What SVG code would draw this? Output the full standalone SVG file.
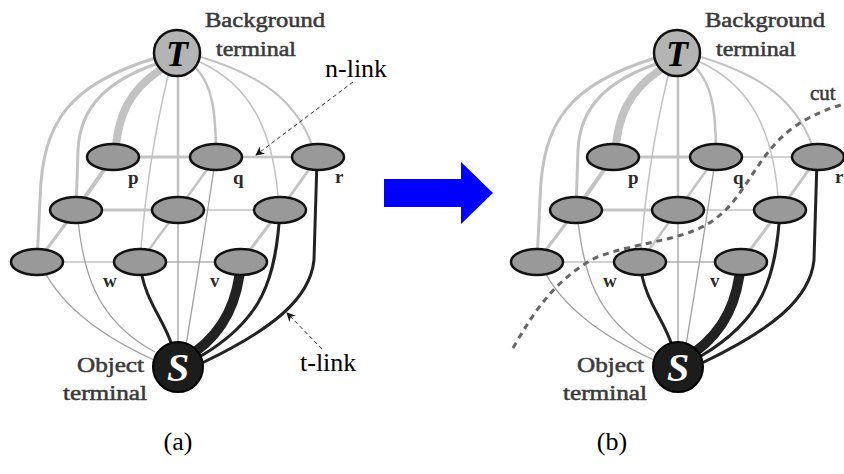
<svg xmlns="http://www.w3.org/2000/svg" width="844" height="474" viewBox="0 0 844 474">
  <defs>
    <style>
      .tl { fill: none; stroke: #c2c2c2; stroke-linecap: round; }
      .sl { fill: none; stroke: #222; stroke-linecap: round; }
      .sg { fill: none; stroke: #a0a0a0; stroke-width: 1.3; }
      .nl { fill: none; stroke: #c4c4c4; stroke-linecap: round; }
      .px { fill: #999; stroke: #111; stroke-width: 2.5; }
      .lab { font-family: "Liberation Serif", "Times New Roman", serif; fill: #3a3a3a; stroke: #3a3a3a; stroke-width: 0.5; }
      .pl { font-family: "Liberation Serif", "Times New Roman", serif; fill: #2a2a2a; font-size: 19px; font-weight: bold; }
      .big { font-family: "Liberation Serif", "Times New Roman", serif; fill: #000; font-size: 26px; }
      .ptr { fill: none; stroke: #333; stroke-width: 1; stroke-dasharray: 4 3; }
    </style>
    <marker id="tip" viewBox="0 0 10 10" refX="9" refY="5" markerWidth="9" markerHeight="9" orient="auto-start-reverse" markerUnits="userSpaceOnUse">
      <path d="M0,0 L10,5 L0,10 L3,5 Z" fill="#111"/>
    </marker>
  </defs>
  <rect width="844" height="474" fill="#fff"/>

  <!-- Panel (a) -->
  <g id="panel-a">
    <g id="a-connectors">
      <!-- n-links between neighbouring pixels -->
      <line class="nl" x1="113" y1="157" x2="216" y2="157" stroke-width="3"/>
      <line class="nl" x1="216" y1="157" x2="318" y2="157" stroke-width="2.5"/>
      <line class="nl" x1="76" y1="210" x2="178" y2="210" stroke-width="3"/>
      <line class="nl" x1="178" y1="210" x2="280" y2="210" stroke-width="1.5"/>
      <line class="nl" x1="37" y1="262" x2="140" y2="262" stroke-width="1.5"/>
      <line class="nl" x1="140" y1="262" x2="241" y2="262" stroke-width="2"/>
      <line class="nl" x1="113" y1="157" x2="76" y2="210" stroke-width="4"/>
      <line class="nl" x1="76" y1="210" x2="37" y2="262" stroke-width="3"/>
      <line class="nl" x1="216" y1="157" x2="178" y2="210" stroke-width="2.5"/>
      <line class="nl" x1="178" y1="210" x2="140" y2="262" stroke-width="2.5"/>
      <line class="nl" x1="318" y1="157" x2="280" y2="210" stroke-width="3"/>
      <line class="nl" x1="280" y1="210" x2="241" y2="262" stroke-width="3"/>
      <!-- t-links to the background terminal -->
      <path class="tl" d="M155,58 C70,85 42,120 40,200 L37,262" stroke-width="3"/>
      <path class="tl" d="M156,64 C110,80 80,105 78,150 L76,210" stroke-width="3"/>
      <path class="tl" d="M160,70 C130,90 117,115 115,157" stroke-width="8"/>
      <path class="tl" d="M168,76 C155,130 145,190 140,262" stroke-width="1.5"/>
      <path class="tl" d="M178,77 L178,210" stroke-width="2.5"/>
      <path class="tl" d="M196,68 C212,85 216,110 216,157" stroke-width="2.5"/>
      <path class="tl" d="M200,62 C250,85 275,130 279,210" stroke-width="1.5"/>
      <path class="tl" d="M201,57 C260,75 300,100 316,157" stroke-width="2"/>
      <!-- t-links to the object terminal -->
      <path class="sg" d="M40,262 C60,310 110,340 154,360"/>
      <path class="sg" d="M77,210 C82,270 95,320 155,352"/>
      <path class="sg" d="M178,210 L178,345" stroke-width="2"/>
      <path class="sg" d="M214,168 C205,230 195,290 186,345"/>
      <path class="sl" d="M140,262 C143,300 165,320 172,346" stroke-width="3"/>
      <path class="sl" d="M241,262 C238,300 225,330 195,352" stroke-width="10"/>
      <path class="sl" d="M280,210 C276,280 262,320 201,356" stroke-width="3"/>
      <path class="sl" d="M317,160 L314,260 C310,300 270,330 204,362" stroke-width="3"/>
      <!-- label pointers -->
      <line class="ptr" x1="353" y1="82" x2="256" y2="155" marker-end="url(#tip)"/>
      <line class="ptr" x1="322" y1="349" x2="287" y2="313" marker-end="url(#tip)"/>
    </g>

    <g id="a-T">
      <circle cx="177" cy="53" r="23" fill="#b4b4b4" stroke="#111" stroke-width="2.5"/>
      <text x="177" y="66" text-anchor="middle" font-family="Liberation Serif, serif" font-style="italic" font-weight="bold" font-size="36" fill="#000">T</text>
    </g>
    <g id="a-S">
      <circle cx="178" cy="367" r="25" fill="#1c1c1c" stroke="#000" stroke-width="2"/>
      <text x="178" y="381" text-anchor="middle" font-family="Liberation Serif, serif" font-style="italic" font-weight="bold" font-size="40" fill="#fff">S</text>
    </g>
    <g id="a-p"><ellipse class="px" cx="113" cy="157" rx="26" ry="13"/></g>
    <g id="a-q"><ellipse class="px" cx="216" cy="157" rx="26" ry="13"/></g>
    <g id="a-r"><ellipse class="px" cx="318" cy="157" rx="26" ry="13"/></g>
    <g id="a-m1"><ellipse class="px" cx="76" cy="210" rx="26" ry="13"/></g>
    <g id="a-m2"><ellipse class="px" cx="178" cy="210" rx="26" ry="13"/></g>
    <g id="a-m3"><ellipse class="px" cx="280" cy="210" rx="26" ry="13"/></g>
    <g id="a-b1"><ellipse class="px" cx="37" cy="262" rx="26" ry="13"/></g>
    <g id="a-w"><ellipse class="px" cx="140" cy="262" rx="26" ry="13"/></g>
    <g id="a-v"><ellipse class="px" cx="241" cy="262" rx="26" ry="13"/></g>

    <g id="a-labels">
      <text class="lab" x="205" y="27" font-size="20" textLength="120" lengthAdjust="spacingAndGlyphs">Background</text>
      <text class="lab" x="216" y="56" font-size="20" textLength="80" lengthAdjust="spacingAndGlyphs">terminal</text>
      <text class="lab" x="77" y="372" font-size="20" textLength="67" lengthAdjust="spacingAndGlyphs">Object</text>
      <text class="lab" x="63" y="400" font-size="20" textLength="84" lengthAdjust="spacingAndGlyphs">terminal</text>
      <text class="pl" x="128" y="184">p</text>
      <text class="pl" x="233" y="184">q</text>
      <text class="pl" x="335" y="183">r</text>
      <text class="pl" x="103" y="287">w</text>
      <text class="pl" x="210" y="287">v</text>
      <text class="big" x="325" y="77">n-link</text>
      <text class="big" x="300" y="371">t-link</text>
      <text class="big" x="178" y="450" text-anchor="middle">(a)</text>
    </g>
  </g>

  <!-- Arrow between panels -->
  <path id="arrow" d="M384,179 L461,179 L461,162 L493,193 L461,224 L461,207 L384,207 Z" fill="#0000ff"/>

  <!-- Panel (b): same graph, with the cut -->
  <g id="panel-b" transform="translate(500,0)">
    <g id="b-connectors">
      <line class="nl" x1="113" y1="157" x2="216" y2="157" stroke-width="3"/>
      <line class="nl" x1="216" y1="157" x2="318" y2="157" stroke-width="1.5"/>
      <line class="nl" x1="76" y1="210" x2="178" y2="210" stroke-width="3"/>
      <line class="nl" x1="178" y1="210" x2="280" y2="210" stroke-width="1.5"/>
      <line class="nl" x1="37" y1="262" x2="140" y2="262" stroke-width="1.5"/>
      <line class="nl" x1="140" y1="262" x2="241" y2="262" stroke-width="2"/>
      <line class="nl" x1="113" y1="157" x2="76" y2="210" stroke-width="4"/>
      <line class="nl" x1="76" y1="210" x2="37" y2="262" stroke-width="3"/>
      <line class="nl" x1="216" y1="157" x2="178" y2="210" stroke-width="2.5"/>
      <line class="nl" x1="178" y1="210" x2="140" y2="262" stroke-width="2.5"/>
      <line class="nl" x1="318" y1="157" x2="280" y2="210" stroke-width="3"/>
      <line class="nl" x1="280" y1="210" x2="241" y2="262" stroke-width="3"/>
      <path class="tl" d="M155,58 C70,85 42,120 40,200 L37,262" stroke-width="3"/>
      <path class="tl" d="M156,64 C110,80 80,105 78,150 L76,210" stroke-width="3"/>
      <path class="tl" d="M160,70 C130,90 117,115 115,157" stroke-width="8"/>
      <path class="tl" d="M168,76 C155,130 145,190 140,262" stroke-width="1.5"/>
      <path class="tl" d="M178,77 L178,210" stroke-width="2.5"/>
      <path class="tl" d="M196,68 C212,85 216,110 216,157" stroke-width="2.5"/>
      <path class="tl" d="M200,62 C250,85 275,130 279,210" stroke-width="1.5"/>
      <path class="tl" d="M201,57 C260,75 300,100 316,157" stroke-width="2"/>
      <path class="sg" d="M40,262 C60,310 110,340 154,360"/>
      <path class="sg" d="M77,210 C82,270 95,320 155,352"/>
      <path class="sg" d="M178,210 L178,345" stroke-width="2"/>
      <path class="sg" d="M214,168 C205,230 195,290 186,345"/>
      <path class="sl" d="M140,262 C143,300 165,320 172,346" stroke-width="3"/>
      <path class="sl" d="M241,262 C238,300 225,330 195,352" stroke-width="10"/>
      <path class="sl" d="M280,210 C276,280 262,320 201,356" stroke-width="3"/>
      <path class="sl" d="M317,160 L314,260 C310,300 270,330 204,362" stroke-width="3"/>
    </g>

    <g id="b-T">
      <circle cx="177" cy="53" r="23" fill="#b4b4b4" stroke="#111" stroke-width="2.5"/>
      <text x="177" y="66" text-anchor="middle" font-family="Liberation Serif, serif" font-style="italic" font-weight="bold" font-size="36" fill="#000">T</text>
    </g>
    <g id="b-S">
      <circle cx="178" cy="367" r="25" fill="#1c1c1c" stroke="#000" stroke-width="2"/>
      <text x="178" y="381" text-anchor="middle" font-family="Liberation Serif, serif" font-style="italic" font-weight="bold" font-size="40" fill="#fff">S</text>
    </g>
    <g id="b-p"><ellipse class="px" cx="113" cy="157" rx="26" ry="13"/></g>
    <g id="b-q"><ellipse class="px" cx="216" cy="157" rx="26" ry="13"/></g>
    <g id="b-r"><ellipse class="px" cx="318" cy="157" rx="26" ry="13"/></g>
    <g id="b-m1"><ellipse class="px" cx="76" cy="210" rx="26" ry="13"/></g>
    <g id="b-m2"><ellipse class="px" cx="178" cy="210" rx="26" ry="13"/></g>
    <g id="b-m3"><ellipse class="px" cx="280" cy="210" rx="26" ry="13"/></g>
    <g id="b-b1"><ellipse class="px" cx="37" cy="262" rx="26" ry="13"/></g>
    <g id="b-w"><ellipse class="px" cx="140" cy="262" rx="26" ry="13"/></g>
    <g id="b-v"><ellipse class="px" cx="241" cy="262" rx="26" ry="13"/></g>

    <!-- the cut separating object from background -->
    <path id="cut" d="M13,348 C35,310 55,280 95,258 C140,240 190,242 220,215 C245,195 258,155 290,130 C310,115 330,108 344,104" fill="none" stroke="#666" stroke-width="3" stroke-dasharray="6 5"/>

    <g id="b-labels">
      <text class="lab" x="205" y="27" font-size="20" textLength="120" lengthAdjust="spacingAndGlyphs">Background</text>
      <text class="lab" x="216" y="56" font-size="20" textLength="80" lengthAdjust="spacingAndGlyphs">terminal</text>
      <text class="lab" x="77" y="372" font-size="20" textLength="67" lengthAdjust="spacingAndGlyphs">Object</text>
      <text class="lab" x="63" y="400" font-size="20" textLength="84" lengthAdjust="spacingAndGlyphs">terminal</text>
      <text class="pl" x="128" y="184">p</text>
      <text class="pl" x="233" y="184">q</text>
      <text class="pl" x="335" y="183">r</text>
      <text class="pl" x="103" y="287">w</text>
      <text class="pl" x="210" y="287">v</text>
      <text class="lab" x="310" y="100" font-size="21" stroke-width="0.3">cut</text>
      <text class="big" x="112" y="450" text-anchor="middle">(b)</text>
    </g>
  </g>
</svg>
